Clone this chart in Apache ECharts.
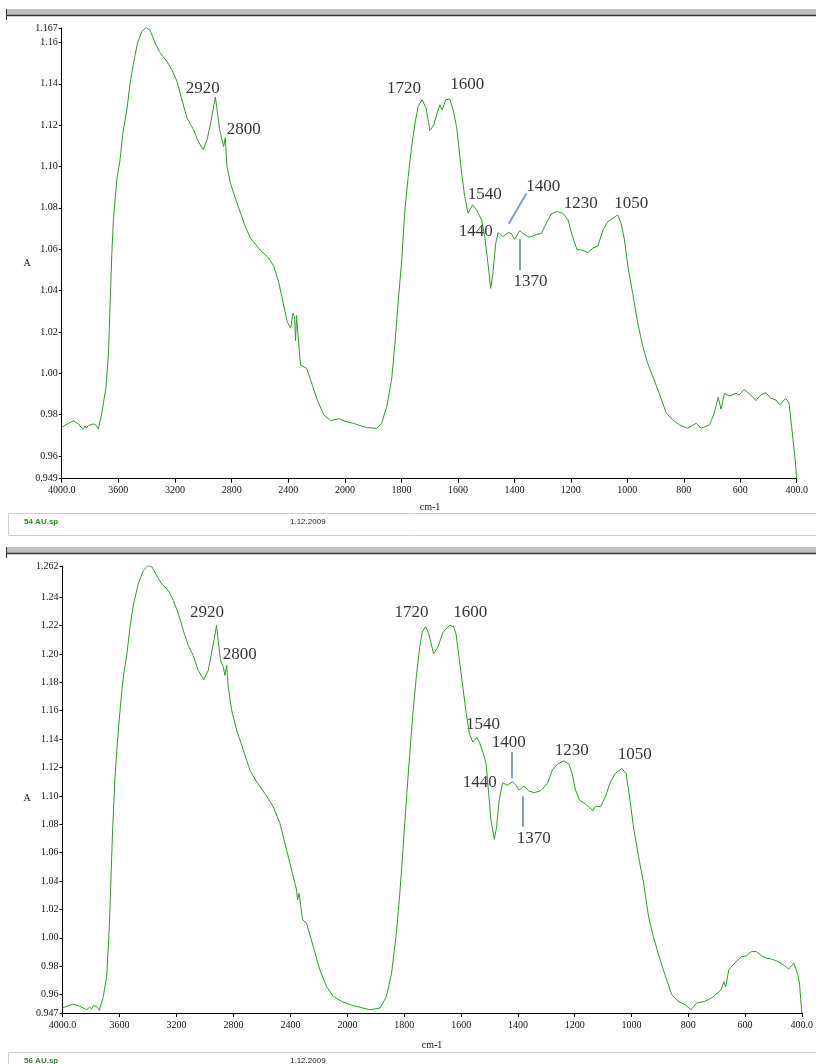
<!DOCTYPE html>
<html>
<head>
<meta charset="utf-8">
<script src="https://cdn.jsdelivr.net/npm/echarts@6/dist/echarts.min.js"></script>
<style>
html,body{margin:0;padding:0;background:#fff;}
#c{width:816px;height:1064px;}
</style>
</head>
<body>
<div id="c"></div>
<script>
// ---------- DATA ----------
// Spectrum 1 (54 AU.sp): [wavenumber cm-1, absorbance A]
const topSpectrum = [
[4000,0.9738],[3960,0.9755],[3918,0.9770],[3900,0.9762],[3882,0.9755],[3865,0.9740],[3847,0.9731],
[3835,0.9745],[3825,0.9735],[3812,0.9747],[3800,0.9738],[3776,0.9755],[3760,0.9750],[3741,0.9731],
[3717,0.9807],[3687,0.9935],[3670,1.0097],[3658,1.0339],[3646,1.0581],[3635,1.0743],[3611,1.0936],
[3588,1.1032],[3568,1.1162],[3540,1.1274],[3517,1.1403],[3493,1.1500],[3465,1.1597],[3434,1.1653],
[3404,1.1672],[3375,1.1658],[3340,1.1597],[3310,1.1555],[3257,1.1508],[3222,1.1468],[3186,1.1411],
[3158,1.1339],[3115,1.1234],[3069,1.1178],[3041,1.1129],[3002,1.1081],[2974,1.1129],[2946,1.1218],
[2932,1.1274],[2915,1.1336],[2903,1.1274],[2885,1.1178],[2868,1.1129],[2857,1.1097],[2845,1.1139],
[2833,1.1000],[2809,1.0920],[2786,1.0871],[2737,1.0774],[2702,1.0706],[2667,1.0653],[2596,1.0594],
[2537,1.0556],[2502,1.0516],[2467,1.0437],[2436,1.0339],[2408,1.0250],[2384,1.0218],[2368,1.0290],
[2356,1.0274],[2349,1.0158],[2342,1.0279],[2333,1.0198],[2314,1.0040],[2271,1.0024],[2243,0.9968],
[2196,0.9871],[2149,0.9798],[2102,0.9771],[2043,0.9780],[2000,0.9768],
[1971,0.9758],[1923,0.9737],[1888,0.9734],[1870,0.9758],[1852,0.9839],[1835,0.9968],[1823,1.0145],
[1811,1.0355],[1799,1.0548],[1788,1.0790],[1776,1.0952],[1764,1.1097],[1752,1.1210],[1741,1.1290],
[1727,1.1323],[1713,1.1283],[1699,1.1174],[1685,1.1202],[1674,1.1258],[1664,1.1299],[1656,1.1274],
[1643,1.1323],[1629,1.1326],[1617,1.1274],[1605,1.1193],[1597,1.1097],[1587,1.0968],[1576,1.0855],
[1564,1.0774],[1558,1.0771],[1548,1.0815],[1534,1.0790],[1516,1.0742],[1505,1.0661],[1495,1.0548],
[1484,1.0411],[1476,1.0484],[1466,1.0629],[1458,1.0680],[1440,1.0661],[1423,1.0680],[1411,1.0677],
[1399,1.0648],[1381,1.0690],[1363,1.0670],[1348,1.0658],[1322,1.0670],[1304,1.0677],[1287,1.0726],
[1269,1.0771],[1251,1.0782],[1228,1.0774],[1210,1.0742],[1194,1.0661],[1178,1.0597],[1163,1.0597],
[1139,1.0584],[1122,1.0605],[1104,1.0616],[1086,1.0694],[1069,1.0734],[1051,1.0750],[1034,1.0766],
[1022,1.0726],[1010,1.0645],[998,1.0516],[981,1.0387],[963,1.0242],[945,1.0129],[928,1.0048],
[905,0.9968],[887,0.9903],[862,0.9807],[839,0.9774],[815,0.9750],[786,0.9734],[756,0.9758],
[739,0.9734],[709,0.9750],[692,0.9807],[678,0.9884],[668,0.9826],[656,0.9903],[639,0.9890],
[615,0.9903],[604,0.9895],[586,0.9922],[563,0.9895],[545,0.9868],[527,0.9895],[509,0.9906],
[492,0.9879],[474,0.9871],[460,0.9847],[439,0.9879],[427,0.9855],[418,0.9742],[412,0.9734],
[405,0.9577],[400,0.9490]
];
// Spectrum 2 (56 AU.sp)
const bottomSpectrum = [
[4000,0.9505],[3960,0.9520],[3924,0.9534],[3900,0.9525],[3877,0.9517],[3855,0.9505],[3830,0.9494],
[3810,0.9510],[3795,0.9500],[3783,0.9522],[3760,0.9515],[3741,0.9489],[3713,0.9587],[3689,0.9728],
[3671,1.0079],[3659,1.0431],[3647,1.0783],[3631,1.1134],[3615,1.1369],[3596,1.1603],[3573,1.1837],
[3549,1.1990],[3526,1.2189],[3503,1.2342],[3468,1.2494],[3433,1.2588],[3398,1.2623],[3374,1.2616],
[3339,1.2553],[3304,1.2494],[3257,1.2447],[3222,1.2377],[3187,1.2283],[3152,1.2166],[3117,1.2060],
[3083,1.1990],[3048,1.1885],[3008,1.1819],[2977,1.1885],[2953,1.2013],[2935,1.2107],[2919,1.2201],
[2908,1.2096],[2891,1.1955],[2872,1.1908],[2860,1.1849],[2848,1.1920],[2837,1.1767],[2813,1.1603],
[2778,1.1463],[2731,1.1322],[2685,1.1181],[2638,1.1099],[2580,1.1017],[2521,1.0923],[2474,1.0805],
[2428,1.0619],[2381,1.0431],[2358,1.0337],[2351,1.0267],[2340,1.0314],[2316,1.0127],[2288,1.0103],
[2241,0.9939],[2195,0.9775],[2148,0.9657],[2101,0.9587],[2043,0.9552],[2000,0.9535],
[1980,0.9522],[1921,0.9493],[1886,0.9505],[1863,0.9587],[1845,0.9752],[1828,1.0033],[1816,1.0314],
[1805,1.0619],[1793,1.0970],[1781,1.1299],[1770,1.1580],[1758,1.1837],[1746,1.2048],[1737,1.2154],
[1725,1.2194],[1714,1.2142],[1697,1.2002],[1682,1.2048],[1664,1.2154],[1655,1.2171],[1641,1.2201],
[1627,1.2194],[1618,1.2142],[1606,1.1955],[1594,1.1767],[1582,1.1580],[1571,1.1439],[1559,1.1380],
[1545,1.1411],[1536,1.1380],[1522,1.1299],[1512,1.1228],[1503,1.1017],[1495,1.0830],[1483,1.0694],
[1475,1.0783],[1466,1.0970],[1454,1.1092],[1437,1.1076],[1419,1.1099],[1407,1.1076],[1396,1.1041],
[1378,1.1071],[1363,1.1036],[1343,1.1022],[1320,1.1036],[1296,1.1087],[1279,1.1181],[1261,1.1223],
[1238,1.1247],[1220,1.1223],[1209,1.1158],[1197,1.1041],[1183,1.0970],[1162,1.0942],[1148,1.0919],
[1136,1.0895],[1127,1.0928],[1109,1.0923],[1092,1.0993],[1074,1.1099],[1057,1.1158],[1034,1.1193],
[1019,1.1158],[1008,1.1014],[993,1.0783],[975,1.0572],[957,1.0385],[940,1.0150],[923,1.0009],
[899,0.9845],[876,0.9704],[858,0.9599],[835,0.9552],[811,0.9529],[790,0.9493],[771,0.9540],
[742,0.9552],[713,0.9582],[684,0.9634],[674,0.9692],[668,0.9653],[657,0.9775],[636,0.9822],
[613,0.9865],[595,0.9873],[577,0.9903],[560,0.9903],[542,0.9873],[525,0.9857],[507,0.9850],
[484,0.9833],[460,0.9803],[446,0.9779],[428,0.9822],[414,0.9740],[408,0.9681],[400,0.9470]
];
// Y axis ranges and tick labels
const topYRange = [0.949, 1.167];
const bottomYRange = [0.947, 1.262];
const topYTicks = [0.949,0.96,0.98,1.00,1.02,1.04,1.06,1.08,1.10,1.12,1.14,1.16,1.167];
const bottomYTicks = [0.947,0.96,0.98,1.00,1.02,1.04,1.06,1.08,1.10,1.12,1.14,1.16,1.18,1.20,1.22,1.24,1.262];
// X axis: 4000-2000 at 400 per division, 2000-400 at 200 per division
const xHighRange = [2000, 4000];
const xLowRange = [400, 2000];
// Peak annotations: [label centre wavenumber, label centre absorbance, text]
const topNotes = [
[3004,1.1376,'2920'],[2715,1.1178,'2800'],
[1791,1.1379,'1720'],[1567,1.1395,'1600'],[1505,1.0863,'1540'],[1298,1.0903,'1400'],
[1165,1.0823,'1230'],[986,1.0823,'1050'],[1537,1.0685,'1440'],[1343,1.0443,'1370']
];
const bottomNotes = [
[2986,1.2289,'2920'],[2757,1.1996,'2800'],
[1775,1.2291,'1720'],[1568,1.2291,'1600'],[1523,1.1501,'1540'],[1432,1.1377,'1400'],
[1210,1.1320,'1230'],[988,1.1292,'1050'],[1534,1.1096,'1440'],[1344,1.0701,'1370']
];
// Leader lines: [[w1,a1],[w2,a2]]
const topLeaders = [[[1357,1.0871],[1420,1.0723]], [[1381,1.0649],[1381,1.0500]]];
const bottomLeaders = [[[1421,1.1310],[1421,1.1123]], [[1384,1.0998],[1384,1.0783]]];

// ---------- CHART ----------
const chart = echarts.init(document.getElementById('c'), null, {renderer:'canvas'});
const FONT = 'Liberation Serif';
const CURVE = '#34982f';

const panels = [
  {spec: topSpectrum, yr: topYRange, ticks: topYTicks, notes: topNotes, leaders: topLeaders,
   top: 28, height: 450.7, leftL: 61.7, splitX: 345, right: 796.7},
  {spec: bottomSpectrum, yr: bottomYRange, ticks: bottomYTicks, notes: bottomNotes, leaders: bottomLeaders,
   top: 566, height: 447, leftL: 62.4, splitX: 347.6, right: 804}
];

const grid = [], xAxis = [], yAxis = [], series = [];
panels.forEach((p, pi) => {
  const gL = grid.length;
  grid.push({left: p.leftL, top: p.top, width: p.splitX - p.leftL, height: p.height});
  grid.push({left: p.splitX, top: p.top, width: p.right - p.splitX, height: p.height});
  const ax = {
    type: 'value', inverse: true,
    axisLine: {show: true, lineStyle: {color: '#000', width: 1}},
    axisTick: {show: true, length: 4, lineStyle: {color: '#000'}},
    splitLine: {show: false},
    axisLabel: {fontFamily: FONT, fontSize: 10, color: '#111', margin: 7, showMinLabel: true, showMaxLabel: true}
  };
  xAxis.push(Object.assign({}, ax, {gridIndex: gL, min: xHighRange[0], max: xHighRange[1], interval: 400,
    axisLabel: Object.assign({}, ax.axisLabel, {formatter: v => v === 4000 ? '4000.0' : String(v)})}));
  xAxis.push(Object.assign({}, ax, {gridIndex: gL + 1, min: xLowRange[0], max: xLowRange[1], interval: 200,
    axisLabel: Object.assign({}, ax.axisLabel, {formatter: v => v === 400 ? '400.0' : (v === 2000 ? '' : String(v))})}));
  yAxis.push({
    type: 'value', gridIndex: gL, min: p.yr[0], max: p.yr[1],
    axisLine: {show: true, lineStyle: {color: '#000', width: 1}},
    axisTick: {show: true, length: 3, customValues: p.ticks, lineStyle: {color: '#000'}},
    splitLine: {show: false},
    axisLabel: {fontFamily: FONT, fontSize: 10, color: '#111', margin: 4, customValues: p.ticks,
      formatter: v => (Math.abs(v - p.yr[0]) < 1e-6 || Math.abs(v - p.yr[1]) < 1e-6) ? v.toFixed(3) : v.toFixed(2)}
  });
  yAxis.push({type: 'value', gridIndex: gL + 1, min: p.yr[0], max: p.yr[1], show: false});

  const hi = p.spec.filter(d => d[0] >= 2000);
  const lo = p.spec.filter(d => d[0] <= 2000);
  const lineBase = {type: 'line', showSymbol: false, symbol: 'none', smooth: false, clip: true,
    lineStyle: {color: CURVE, width: 1}, silent: true};
  series.push(Object.assign({}, lineBase, {xAxisIndex: gL, yAxisIndex: gL, data: hi}));
  series.push(Object.assign({}, lineBase, {xAxisIndex: gL + 1, yAxisIndex: gL + 1, data: lo}));

  const noteLabel = {show: true, position: 'inside', formatter: q => q.value[2],
    fontFamily: FONT, fontSize: 17, color: '#000'};
  series.push({type: 'scatter', xAxisIndex: gL, yAxisIndex: gL, symbolSize: 0, silent: true,
    data: p.notes.filter(n => n[0] >= 2000), label: noteLabel});
  series.push({type: 'scatter', xAxisIndex: gL + 1, yAxisIndex: gL + 1, symbolSize: 0, silent: true,
    data: p.notes.filter(n => n[0] < 2000), label: noteLabel,
    markLine: {silent: true, symbol: ['none', 'none'], label: {show: false},
      lineStyle: {color: '#8a9dbf', width: 2, type: 'solid'},
      data: p.leaders.map(l => [{coord: l[0]}, {coord: l[1]}])}});
});

const bar = (y) => [
  {type: 'rect', shape: {x: 6, y: y, width: 812, height: 6}, style: {fill: '#c0c0c0'}, silent: true},
  {type: 'line', shape: {x1: 6, y1: y + 6.5, x2: 816, y2: y + 6.5}, style: {stroke: '#333', lineWidth: 1.5}, silent: true},
  {type: 'line', shape: {x1: 6.5, y1: y, x2: 6.5, y2: y + 11}, style: {stroke: '#333', lineWidth: 1}, silent: true}
];
const footer = (y, name) => [
  {type: 'rect', shape: {x: 8.5, y: y + 0.5, width: 808, height: 22}, style: {fill: '#fff', stroke: '#cfcfcf', lineWidth: 1}, silent: true},
  {type: 'text', x: 24, y: y + 5, style: {text: name, fill: '#2e8b2e', font: 'bold 8px "Liberation Sans"'}, silent: true},
  {type: 'text', x: 290, y: y + 5, style: {text: '1.12.2009', fill: '#222', font: '8px "Liberation Sans"'}, silent: true}
];
const txt = (x, y, s, align) => ({type: 'text', x: x, y: y, silent: true,
  style: {text: s, fill: '#111', font: '10px "' + FONT + '"', textAlign: align || 'center', textVerticalAlign: 'middle'}});

const graphic = [].concat(
  bar(9), bar(547),
  footer(513, '54 AU.sp'), footer(1052, '56 AU.sp'),
  [txt(27, 263, 'A'), txt(430, 507, 'cm-1'), txt(27, 798, 'A'), txt(432, 1045, 'cm-1')]
);

chart.setOption({
  animation: false,
  backgroundColor: '#fff',
  grid: grid, xAxis: xAxis, yAxis: yAxis, series: series, graphic: graphic
});
</script>
</body>
</html>
